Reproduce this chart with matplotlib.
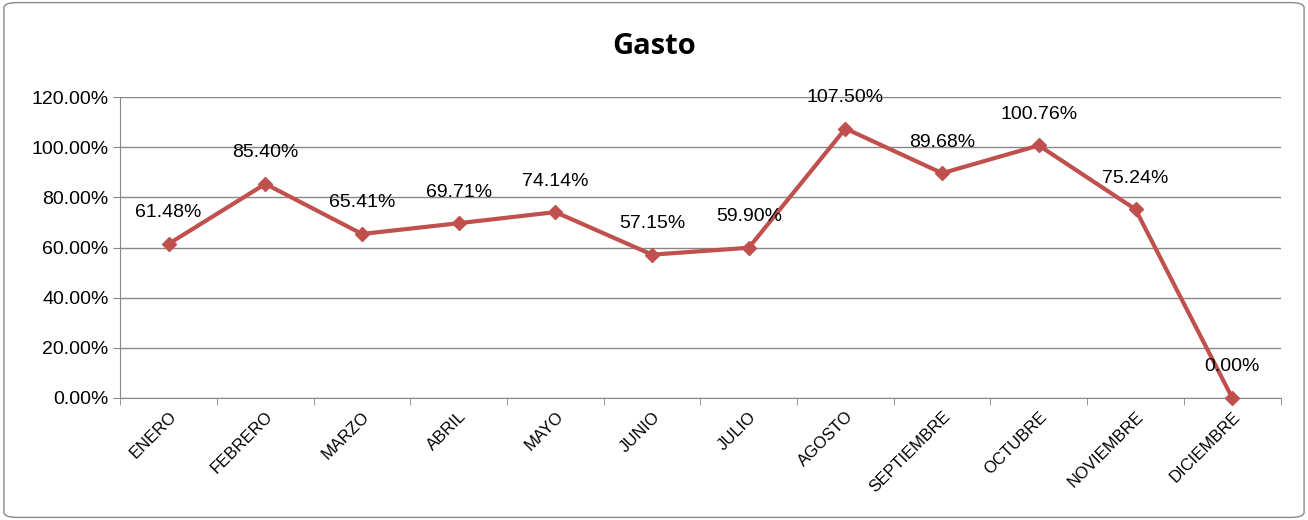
import matplotlib
matplotlib.use("Agg")
import matplotlib.pyplot as plt
from matplotlib.patches import FancyBboxPatch

months = ["ENERO","FEBRERO","MARZO","ABRIL","MAYO","JUNIO","JULIO","AGOSTO",
          "SEPTIEMBRE","OCTUBRE","NOVIEMBRE","DICIEMBRE"]
values = [61.48, 85.40, 65.41, 69.71, 74.14, 57.15, 59.90, 107.50, 89.68, 100.76, 75.24, 0.00]
yticks = [0, 20, 40, 60, 80, 100, 120]

fig = plt.figure(figsize=(13.08, 5.2), dpi=100)
fig.patches.append(FancyBboxPatch((0.003, 0.005), 0.994, 0.99, boxstyle="round,pad=0,rounding_size=0.01",
                                  transform=fig.transFigure, fill=False, edgecolor="#888888", lw=1))
ax = fig.add_axes([0.092, 0.235, 0.887, 0.578])
x = list(range(len(months)))
ax.plot(x, values, color="#C0504D", lw=3, marker="D", markersize=7, zorder=3, clip_on=False)
for xi, v in zip(x, values):
    ax.text(xi, v + 9, f"{v:.2f}%", ha="center", va="bottom", fontsize=14, family="Liberation Sans")
ax.set_xlim(-0.5, 11.5)
ax.set_ylim(0, 120)
ax.set_yticks(yticks)
ax.set_yticklabels([f"{t:.2f}%" for t in yticks], fontsize=14, family="Liberation Sans")
ax.grid(axis="y", color="#888888", lw=1)
ax.set_axisbelow(True)
ax.set_xticks(x)
ax.set_xticklabels(months, rotation=45, ha="right", rotation_mode="anchor", fontsize=12, family="Liberation Sans")
ax.set_xticks([i + 0.5 for i in range(-1, 12)], minor=True)
ax.tick_params(axis="x", which="major", length=0, pad=8)
ax.tick_params(axis="x", which="minor", length=5, color="#888888")
ax.tick_params(axis="y", length=5, color="#888888")
for s in ["top", "right"]:
    ax.spines[s].set_visible(False)
for s in ["left", "bottom"]:
    ax.spines[s].set_color("#888888")
fig.text(0.5, 0.91, "Gasto", ha="center", va="center", fontsize=21, fontweight="bold", family="Open Sans")
fig.savefig("out.png", dpi=100)
